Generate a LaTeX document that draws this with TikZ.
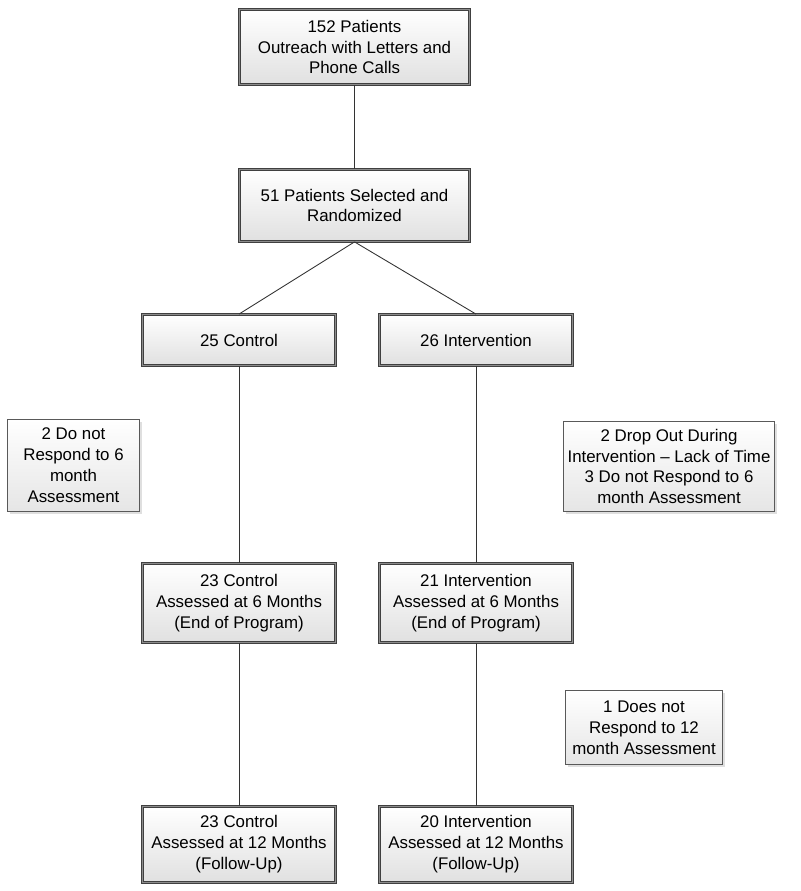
\documentclass[tikz,border=0pt]{standalone}
\usepackage{fontspec}
\setmainfont{Liberation Sans}
\usetikzlibrary{shadows}

\begin{document}
\begin{tikzpicture}[font=\fontsize{9.6}{11.9}\selectfont,x=1.000cm,y=1.000cm,
 box/.style={draw=black!75,double=black!45,double distance=1.1pt,line width=0.45pt,
  align=center,inner sep=2pt,top color=white,bottom color=black!12},
 side/.style={draw=black!65,line width=0.5pt,align=center,inner sep=2pt,
  top color=white,bottom color=black!10,drop shadow={opacity=0.25,shadow xshift=1.2pt,shadow yshift=-1.2pt}},
 link/.style={draw=black!80,line width=0.5pt}]
\useasboundingbox (0.000,0.000) rectangle (16.000,-17.820);
\node[box,minimum width=4.60cm,minimum height=1.50cm] (outreach) at (7.090,-0.940) {152 Patients\\Outreach with Letters and\\Phone Calls};
\node[box,minimum width=4.60cm,minimum height=1.44cm] (random) at (7.090,-4.110) {51 Patients Selected and\\Randomized};
\node[box,minimum width=3.86cm,minimum height=1.02cm] (ctrl) at (4.780,-6.800) {25 Control};
\node[box,minimum width=3.86cm,minimum height=1.02cm] (intv) at (9.520,-6.800) {26 Intervention};
\node[side,minimum width=2.64cm,minimum height=1.84cm] (dropctrl) at (1.470,-9.310) {2 Do not\\Respond to 6\\month\\Assessment};
\node[side,minimum width=4.22cm,minimum height=1.80cm] (dropintv) at (13.380,-9.330) {2 Drop Out During\\Intervention -- Lack of Time\\3 Do not Respond to 6\\month Assessment};
\node[box,minimum width=3.86cm,minimum height=1.58cm] (ctrlsix) at (4.780,-12.060) {23 Control\\Assessed at 6 Months\\(End of Program)};
\node[box,minimum width=3.86cm,minimum height=1.58cm] (intvsix) at (9.520,-12.060) {21 Intervention\\Assessed at 6 Months\\(End of Program)};
\node[side,minimum width=3.14cm,minimum height=1.48cm] (dropfollow) at (12.880,-14.550) {1 Does not\\Respond to 12\\month Assessment};
\node[box,minimum width=3.86cm,minimum height=1.52cm] (ctrltwelve) at (4.780,-16.890) {23 Control\\Assessed at 12 Months\\(Follow-Up)};
\node[box,minimum width=3.86cm,minimum height=1.52cm] (intvtwelve) at (9.520,-16.890) {20 Intervention\\Assessed at 12 Months\\(Follow-Up)};
\draw[link] (outreach) -- (random);
\draw[link] (random.south) -- (ctrl.north);
\draw[link] (random.south) -- (intv.north);
\draw[link] (ctrl) -- (ctrlsix);
\draw[link] (intv) -- (intvsix);
\draw[link] (ctrlsix) -- (ctrltwelve);
\draw[link] (intvsix) -- (intvtwelve);
\end{tikzpicture}
\end{document}
